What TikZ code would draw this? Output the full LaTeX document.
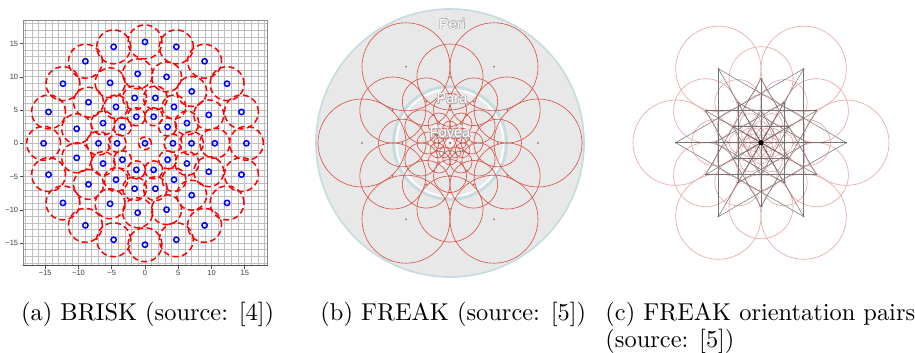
\documentclass[tikz,border=0pt]{standalone}
\usepackage{fontspec}
\newfontfamily\axisfont{Liberation Sans}
\usetikzlibrary{calc}
\definecolor{frred}{HTML}{D8564C}
\definecolor{discgray}{HTML}{E8E8E8}
\definecolor{discedge}{HTML}{C4DCDF}
\definecolor{pinkc}{HTML}{EAA8A8}
\tikzset{
  gridline/.style={draw=black!25, line width=0.7pt},
  framebox/.style={draw=black!45, line width=0.8pt},
  tickline/.style={draw=black!70, line width=0.6pt},
  ticklabel/.style={inner sep=0pt, text=black!75, font=\axisfont\fontsize{7.5}{8}\selectfont},
  dashcirc/.style={draw=red, line width=1.5pt, dash pattern=on 6pt off 3.5pt},
  bluecirc/.style={draw=blue, line width=1.5pt},
  fcirc/.style={draw=frred, line width=0.65pt},
  ccirc/.style={draw=pinkc, line width=0.65pt},
  pairline/.style={draw=black!55, line width=0.5pt},
  fdot/.style={fill=black!60},
  caption/.style={anchor=base west, inner sep=0pt, scale=2.44, transform shape, font=\fontsize{10}{12}\selectfont},
  zonelab/.style={inner sep=0pt, text=white, font=\axisfont\fontsize{14.5}{14.5}\selectfont},
  zoneshadow/.style={inner sep=0pt, text=black!30, font=\axisfont\fontsize{14.5}{14.5}\selectfont},
}
\newcommand\zonelabel[3]{%
  \foreach \dx/\dy in {-0.6/0,0.6/0,0/-0.6,0/0.6,0.8/0.8,-0.6/0.6,0.6/-0.6} {
    \node[zoneshadow] at ($(#1)+(\dx,\dy)$) {#3};
  }
  \node[zonelab] (#2) at (#1) {#3};
}
\begin{document}
\begin{tikzpicture}[x=1pt, y=-1pt]
\useasboundingbox (0,0) rectangle (915,353);
\fill[white] (0,0) rectangle (915,353);

% ---------------- (a) BRISK ----------------
\begin{scope}[xshift=145pt, yshift=-143.3pt, x=6.65pt, y=6.65pt]
  \fill[white] (-18.35,-18.4) rectangle (18.45,18.45);
  \foreach \g in {-18,...,18} {
    \draw[gridline] (\g,-18.4) -- (\g,18.45);
    \draw[gridline] (-18.35,\g) -- (18.45,\g);
  }
  \draw[framebox] (-18.35,-18.4) rectangle (18.45,18.45);
  \draw[tickline] (-18.35,-18.4) -- (18.45,-18.4);
  \foreach \t in {-15,-10,...,15} {
    \draw[tickline] (\t,-18.4) -- (\t,-18.85);
    \draw[tickline] (-18.35,\t) -- (-18.8,\t);
  }
  \foreach \t/\l in {-15/−15,-10/−10,-5/−5,0/0,5/5,10/10,15/15} {
    \node[ticklabel] (xl\t) at (\t,-19.5) {\l};
    \node[ticklabel, anchor=east] (yl\t) at (-19.05,\t) {\l};
  }
  \foreach \r/\n/\s in {0/1/0.95, 4.2/10/1.35, 7.0/14/1.8, 10.5/15/2.25, 15.25/20/2.55} {
    \foreach \k in {1,...,\n} {
      \draw[dashcirc] ({\r*cos(360*\k/\n)},{\r*sin(360*\k/\n)}) circle (\s);
    }
  }
  \foreach \r/\n in {0/1, 4.2/10, 7.0/14, 10.5/15, 15.25/20} {
    \foreach \k in {1,...,\n} {
      \draw[bluecirc] ({\r*cos(360*\k/\n)},{\r*sin(360*\k/\n)}) circle (0.4);
    }
  }
\end{scope}

% ---------------- (b) FREAK ----------------
\begin{scope}[xshift=450pt, yshift=-143pt, x=132pt, y=132pt]
  \fill[discgray] (0,0) circle[radius=134pt];
  \draw[discedge, line width=1.6pt] (0,0) circle[radius=134pt];
  \draw[discedge, line width=2.6pt] (0,0) circle[radius=56.5pt];
  \draw[white, line width=1.6pt] (0,0) circle[radius=53.5pt];
  \draw[white, line width=1.4pt, dash pattern=on 6pt off 2pt] (0,0) circle[radius=22pt];
  \foreach \i/\R in {0/0.6667, 1/0.5, 2/0.3611, 3/0.25, 4/0.1667, 5/0.1111, 6/0.0833} {
    \foreach \k in {0,...,5} {
      \coordinate (b\i-\k) at ({\R*cos(60*\k+30*mod(\i,2))},{\R*sin(60*\k+30*mod(\i,2))});
      \draw[fcirc] (b\i-\k) circle (\R/2);
    }
  }
  \draw[fcirc] (0,0) circle (0.0417);
  \foreach \i in {0,...,6} {
    \foreach \k in {0,...,5} {
      \fill[fdot] (b\i-\k) circle[radius=0.9pt];
    }
  }
  \draw[white, line width=1pt] (0,0) circle[radius=3pt];
  \fill[black!65] (0,0) circle[radius=1pt];
\end{scope}
\coordinate (periat) at (452,24);
\coordinate (paraat) at (452,99);
\coordinate (foveaat) at (450,133);
\zonelabel{periat}{peri}{Peri}
\zonelabel{paraat}{para}{Para}
\zonelabel{foveaat}{fovea}{Fovea}

% ---------------- (c) FREAK orientation pairs ----------------
\begin{scope}[xshift=761pt, yshift=-142.7pt, x=128pt, y=128pt]
  \foreach \i/\R in {0/0.6667, 1/0.5, 2/0.3611, 3/0.25, 4/0.1667, 5/0.1111, 6/0.0833} {
    \foreach \k in {0,...,5} {
      \coordinate (c\i-\k) at ({\R*cos(60*\k+30*mod(\i,2))},{\R*sin(60*\k+30*mod(\i,2))});
      \draw[ccirc] (c\i-\k) circle (\R/2);
    }
  }
  \coordinate (c7-0) at (0,0);
  \draw[ccirc] (c7-0) circle (0.0417);
  \foreach \i in {0,...,3} {
    \foreach \k in {0,...,5} {
      \pgfmathtruncatemacro{\kk}{mod(\k+2,6)}
      \draw[pairline] (c\i-\k) -- (c\i-\kk);
    }
  }
  \foreach \i in {0,...,6} {
    \foreach \k in {0,1,2} {
      \pgfmathtruncatemacro{\kk}{\k+3}
      \draw[pairline] (c\i-\k) -- (c\i-\kk);
    }
  }
  \foreach \i in {0,...,6} {
    \foreach \k in {0,...,5} {
      \fill[fdot] (c\i-\k) circle[radius=0.8pt];
    }
  }
  \fill[black] (c7-0) circle[radius=2.6pt];
\end{scope}

% ---------------- captions ----------------
\node[caption] (capa) at (20.7,320.5) {(a) BRISK (source: [4])};
\node[caption] (capb) at (320,320.5) {(b) FREAK (source: [5])};
\node[caption] (capc1) at (605,320.5) {(c) FREAK orientation pairs};
\node[caption] (capc2) at (605,347.2) {(source: [5])};
\end{tikzpicture}
\end{document}
